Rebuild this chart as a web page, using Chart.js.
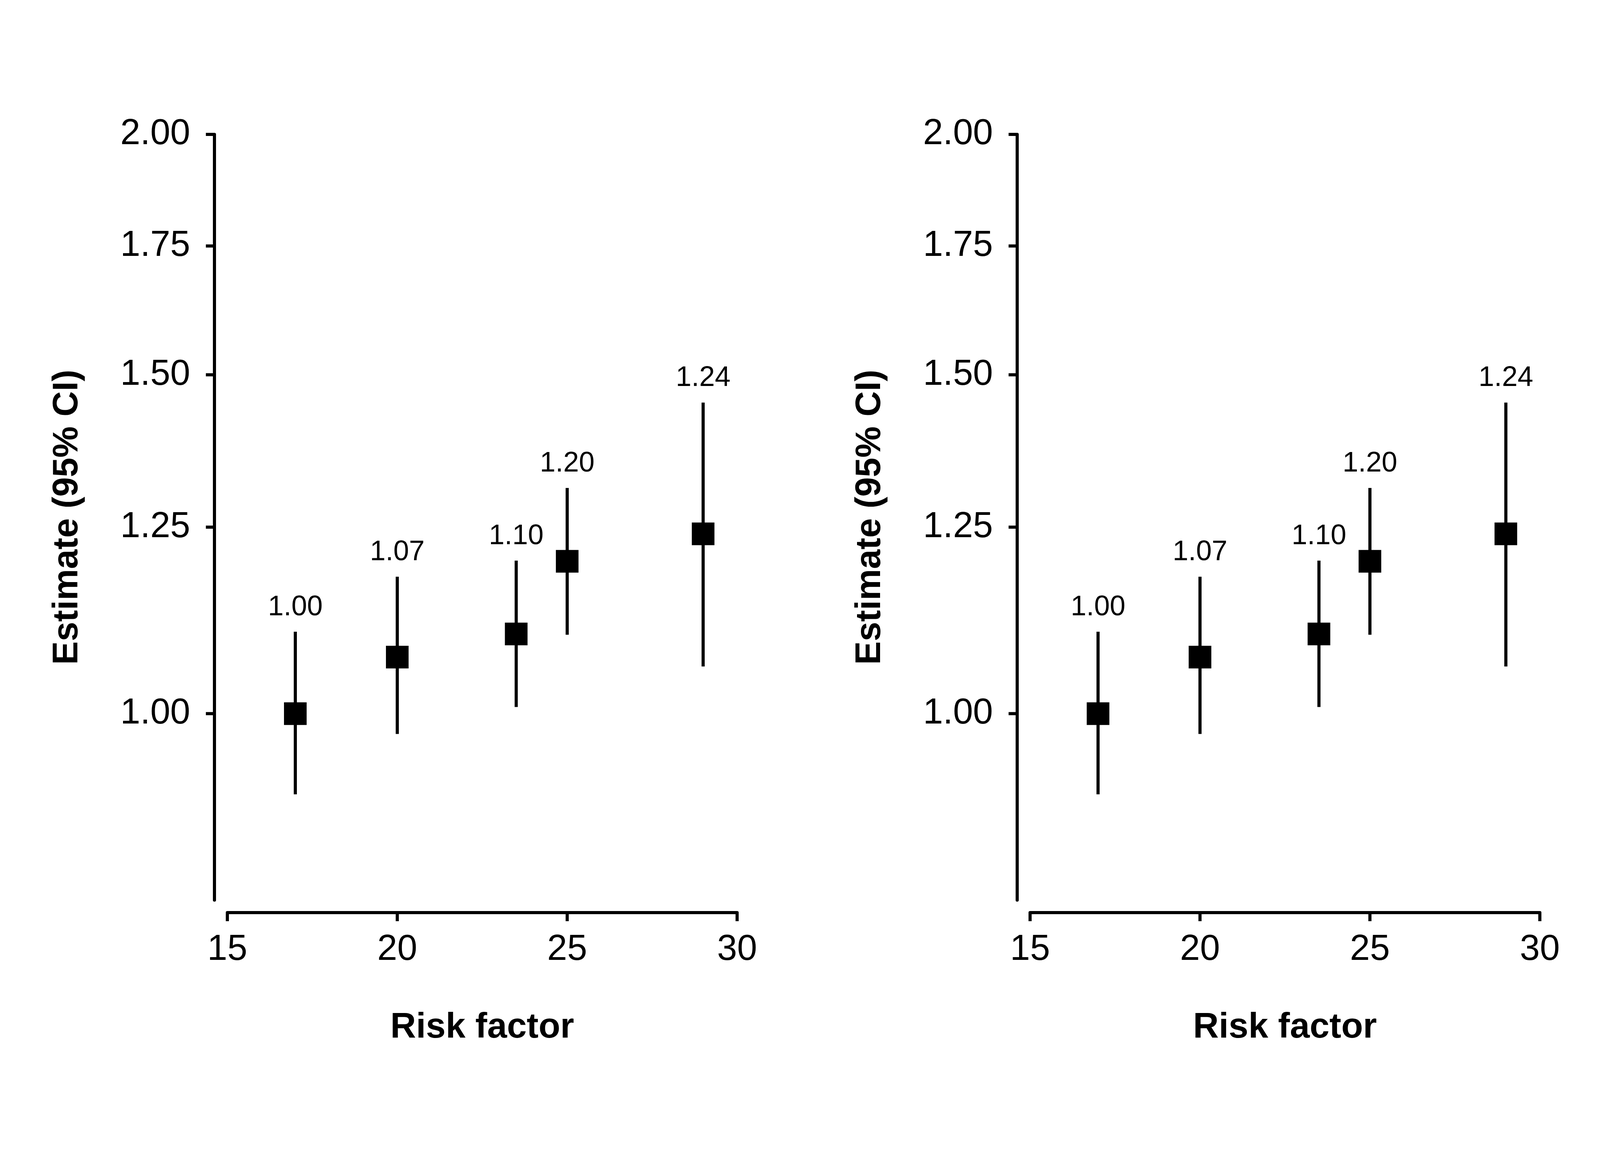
<!DOCTYPE html>
<html><head><meta charset="utf-8">
<script src="https://cdn.jsdelivr.net/npm/chart.js@4.4.1/dist/chart.umd.min.js"></script>
<style>
html,body{margin:0;padding:0;background:#fff;}
#wrap{position:relative;width:4200px;height:3000px;background:#fff;overflow:hidden;}
.panel{position:absolute;top:0;width:2055px;height:3000px;}
canvas{display:block;}
</style></head><body>
<div id="wrap">
<div class="panel" style="left:0px"><canvas id="c1" width="2055" height="3000"></canvas></div>
<div class="panel" style="left:2055px"><canvas id="c2" width="2055" height="3000"></canvas></div>
</div>
<script>
// ---- data ----
const riskFactor = [17, 20, 23.5, 25, 29];
const estimate = [1.00, 1.07, 1.10, 1.20, 1.24];
const ciLower = [0.908, 0.976, 1.008, 1.099, 1.058];
const ciUpper = [1.103, 1.178, 1.201, 1.310, 1.451];
const estimateLabels = ['1.00', '1.07', '1.10', '1.20', '1.24'];
const xTickValues = [15, 20, 25, 30];
const xTickLabels = ['15', '20', '25', '30'];
const yTickValues = [1.00, 1.25, 1.50, 1.75, 2.00];
const yTickLabels = ['1.00', '1.25', '1.50', '1.75', '2.00'];
const xRange = [15, 30];
const yRange = [0.8, 2.0];
const xAxisTitle = 'Risk factor';
const yAxisTitle = 'Estimate (95% CI)';

const FONT = '"Liberation Sans", Arial, Helvetica, sans-serif';
Chart.defaults.font.family = FONT;
Chart.defaults.color = '#000';

const forestPlugin = {
  id: 'forest',
  beforeDatasetsDraw(chart) {
    const {ctx, scales: {x, y}} = chart;
    ctx.save();
    ctx.strokeStyle = '#000';
    ctx.lineWidth = 8;
    ctx.lineCap = 'butt';
    riskFactor.forEach((v, i) => {
      const px = x.getPixelForValue(v);
      ctx.beginPath();
      ctx.moveTo(px, y.getPixelForValue(ciLower[i]));
      ctx.lineTo(px, y.getPixelForValue(ciUpper[i]));
      ctx.stroke();
    });
    ctx.restore();
  },
  afterDatasetsDraw(chart) {
    const {ctx, scales: {x, y}} = chart;
    ctx.save();
    ctx.fillStyle = '#000';
    ctx.font = '72px ' + FONT;
    ctx.textAlign = 'center';
    ctx.textBaseline = 'alphabetic';
    riskFactor.forEach((v, i) => {
      ctx.fillText(estimateLabels[i], x.getPixelForValue(v), y.getPixelForValue(ciUpper[i]) - 42);
    });
    ctx.restore();
  },
  afterDraw(chart) {
    const {ctx, chartArea, scales: {x, y}} = chart;
    const axX = chartArea.left - 33;
    const axY = chartArea.bottom + 32;
    const tick = 22;
    ctx.save();
    ctx.strokeStyle = '#000';
    ctx.lineWidth = 8;
    ctx.lineJoin = 'round';
    // y axis
    ctx.lineCap = 'round';
    ctx.beginPath();
    ctx.moveTo(axX, y.getPixelForValue(yRange[0]));
    ctx.lineTo(axX, y.getPixelForValue(yRange[1]));
    ctx.stroke();
    ctx.lineCap = 'butt';
    yTickValues.forEach(v => {
      const py = y.getPixelForValue(v);
      ctx.beginPath();
      ctx.moveTo(axX, py);
      ctx.lineTo(axX - tick, py);
      ctx.stroke();
    });
    // x axis
    ctx.lineCap = 'round';
    ctx.beginPath();
    ctx.moveTo(x.getPixelForValue(xRange[0]), axY);
    ctx.lineTo(x.getPixelForValue(xRange[1]), axY);
    ctx.stroke();
    ctx.lineCap = 'butt';
    xTickValues.forEach(v => {
      const px = x.getPixelForValue(v);
      ctx.beginPath();
      ctx.moveTo(px, axY);
      ctx.lineTo(px, axY + tick);
      ctx.stroke();
    });
    ctx.restore();
  }
};

function makePanel(id) {
  return new Chart(document.getElementById(id), {
    type: 'scatter',
    data: {
      datasets: [{
        data: riskFactor.map((v, i) => ({x: v, y: estimate[i]})),
        pointStyle: 'rect',
        pointRadius: 41,
        pointHoverRadius: 41,
        backgroundColor: '#000',
        borderWidth: 0,
        showLine: false
      }]
    },
    options: {
      responsive: false,
      maintainAspectRatio: false,
      devicePixelRatio: 1,
      animation: false,
      events: [],
      layout: {padding: {left: 0, right: 168, top: 344, bottom: 196}},
      plugins: {legend: {display: false}, tooltip: {enabled: false}},
      scales: {
        x: {
          type: 'linear',
          min: xRange[0],
          max: xRange[1],
          afterBuildTicks: s => { s.ticks = xTickValues.map(v => ({value: v})); },
          afterFit: s => { s.height = 500; },
          grid: {display: false, drawTicks: false},
          border: {display: false},
          ticks: {
            color: '#000',
            font: {size: 92},
            padding: 72,
            maxRotation: 0,
            autoSkip: false,
            callback: (v, i) => xTickLabels[i]
          },
          title: {
            display: true,
            text: xAxisTitle,
            color: '#000',
            font: {size: 91, weight: 'bold'},
            padding: {top: 0, bottom: 118}
          }
        },
        y: {
          type: 'logarithmic',
          min: yRange[0],
          max: yRange[1],
          afterBuildTicks: s => { s.ticks = yTickValues.map(v => ({value: v})); },
          afterFit: s => { s.width = 582; },
          grid: {display: false, drawTicks: false},
          border: {display: false},
          ticks: {
            color: '#000',
            font: {size: 92},
            padding: 95,
            autoSkip: false,
            callback: (v, i) => yTickLabels[i]
          },
          title: {
            display: true,
            text: yAxisTitle,
            color: '#000',
            font: {size: 90, weight: 'bold'},
            padding: {top: 119, bottom: 0}
          }
        }
      }
    },
    plugins: [forestPlugin]
  });
}
makePanel('c1');
makePanel('c2');
</script>
</body></html>
